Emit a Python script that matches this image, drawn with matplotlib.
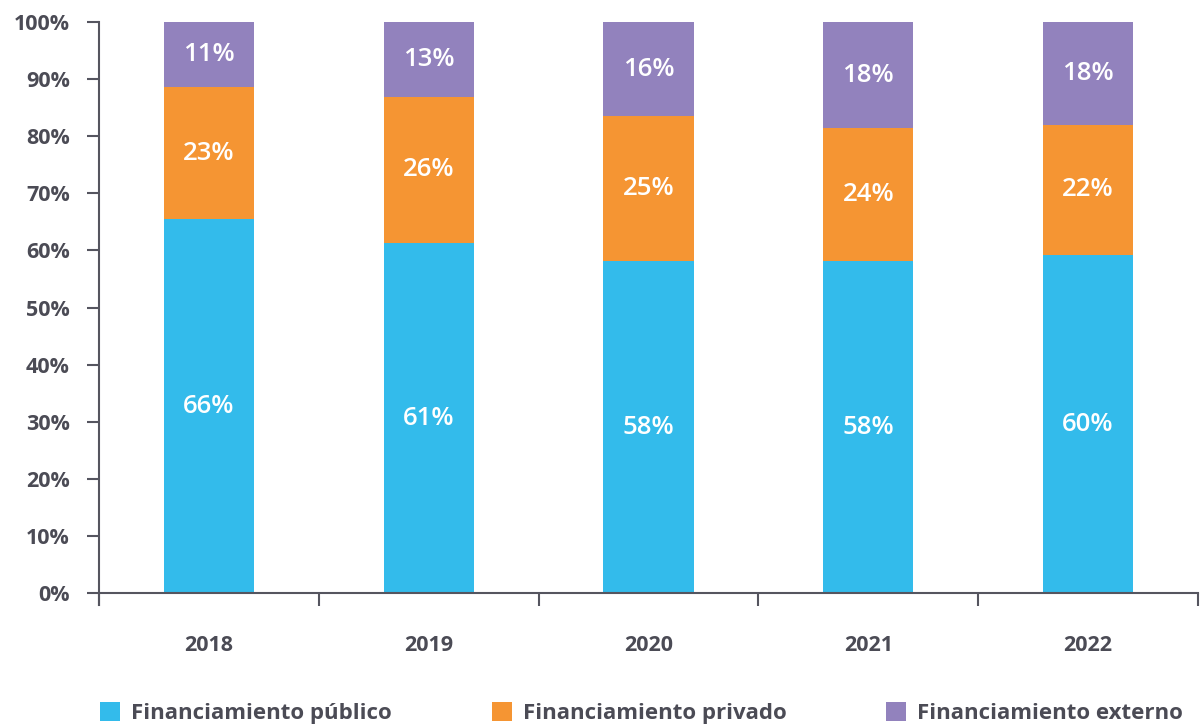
import matplotlib.pyplot as plt
from matplotlib.patches import Patch
import numpy as np

years = ["2018", "2019", "2020", "2021", "2022"]
publico = [65.5, 61.3, 58.1, 58.1, 59.2]
privado = [23.1, 25.6, 25.4, 23.3, 22.8]
externo = [11.4, 13.1, 16.5, 18.6, 18.0]
publico_lbl = ["66%", "61%", "58%", "58%", "60%"]
privado_lbl = ["23%", "26%", "25%", "24%", "22%"]
externo_lbl = ["11%", "13%", "16%", "18%", "18%"]
series_names = ["Financiamiento público", "Financiamiento privado", "Financiamiento externo"]

colors = ["#33bbeb", "#f59533", "#9282bd"]
text_col = "#4b4b55"
plt.rcParams["font.family"] = ["Open Sans", "DejaVu Sans"]

fig = plt.figure(figsize=(12.03, 7.24), dpi=100)
ax = fig.add_axes([0.0823, 0.1809, 0.9135, 0.7887])

x = np.arange(len(years))
bottom = np.zeros(len(years))
for vals, lbls, c in zip([publico, privado, externo],
                         [publico_lbl, privado_lbl, externo_lbl], colors):
    vals = np.array(vals)
    ax.bar(x, vals, bottom=bottom, width=0.41, color=c, zorder=2)
    for xi, b, v, t in zip(x, bottom, vals, lbls):
        ax.text(xi, b + v / 2, t, ha="center", va="center", color="white",
                fontsize=18.5, fontweight="semibold")
    bottom += vals

ax.set_xlim(-0.5, len(years) - 0.5)
ax.set_ylim(0, 100)
ax.set_yticks(range(0, 101, 10))
ax.set_yticklabels([f"{v}%" for v in range(0, 101, 10)])

ax.set_xticks(np.arange(-0.5, len(years), 1))
ax.set_xticklabels([])
ax.set_xticks(x, minor=True)
ax.set_xticklabels(years, minor=True)
ax.tick_params(axis="x", which="minor", length=0, pad=30)
ax.tick_params(axis="x", which="major", length=9, width=1.5, color="#55555f")
ax.tick_params(axis="y", length=9, width=1.5, color="#55555f", pad=12)
for lab in ax.get_xticklabels(minor=True) + ax.get_yticklabels():
    lab.set_fontsize(15.5)
    lab.set_fontweight("bold")
    lab.set_color(text_col)

for s in ["top", "right"]:
    ax.spines[s].set_visible(False)
for s in ["left", "bottom"]:
    ax.spines[s].set_color("#55555f")
    ax.spines[s].set_linewidth(1.5)
ax.spines["left"].set_bounds(-2.1, 100)
ax.spines["left"].set_clip_on(False)

handles = [Patch(facecolor=c, edgecolor="none") for c in colors]
leg = fig.legend(handles, series_names, loc="lower left",
                 bbox_to_anchor=(100 / 1203, 0.0, 1083 / 1203, 0.06),
                 mode="expand", ncol=3, frameon=False, fontsize=16,
                 handlelength=0.9, handleheight=0.9, handletextpad=0.5,
                 borderaxespad=0, borderpad=0)
for t in leg.get_texts():
    t.set_color(text_col)
    t.set_fontweight("bold")

fig.savefig("out.png", dpi=100)
